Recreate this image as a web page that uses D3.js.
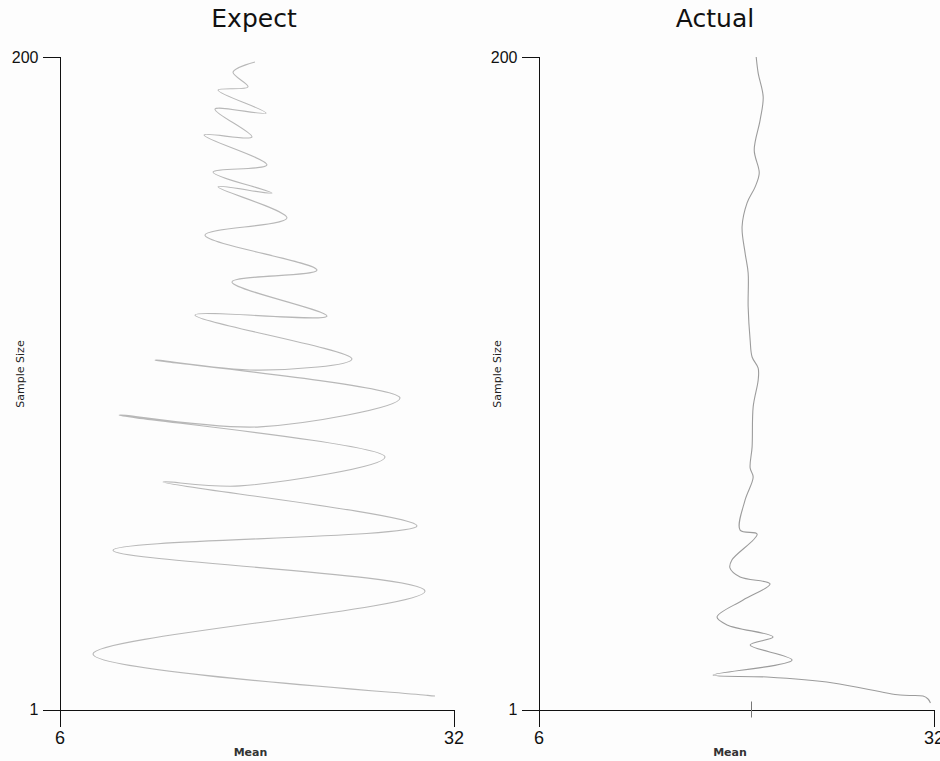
<!DOCTYPE html>
<html>
  <head>
    <script src="https://d3js.org/d3.v7.min.js"></script>
    <style>
body {
    margin: 0;
    background: #fdfdfd;
}
svg {
    font-family: "DejaVu Sans", Verdana, sans-serif;
}
.axis path, .axis line {
    stroke: #111;
    shape-rendering: crispEdges;
}
.axis text {
    fill: #111;
}
    </style>
  </head>
  <body>
    <script>
// values, ordered along each line
var titles = ["Expect", "Actual"];
var xTicks = [6, 32];
var yTicks = [1, 200];

var expectMean = [18.9, 17.45, 18.44, 16.46, 19.63, 16.26, 18.7, 15.54, 19.69, 16.13, 20.02, 16.46,
	21.01, 15.6, 22.99, 17.38, 23.65, 14.94, 25.3, 19.23, 12.3, 28.47, 19.23, 9.93, 27.48, 17.91,
	12.83, 29.59, 9.53, 30.12, 8.21, 30.3, 30.78];
var expectSize = [198.5, 195.4, 190.9, 189.9, 182.9, 184.1, 175.6, 176.2, 167.1, 164.9, 158.5, 160.4,
	150.9, 145.7, 135.0, 131.4, 121.0, 121.3, 107.9, 104.5, 107.6, 96.0, 87.2, 90.8, 78.0, 69.2,
	70.4, 57.0, 49.6, 37.1, 17.9, 5.3, 5.1];

var actualMean = [20.33, 20.46, 20.79, 20.59, 20.2, 20.53, 20.26, 19.73, 19.4, 19.6, 19.8, 19.8,
	19.93, 20.06, 20.46, 20.46, 20.13, 20.06, 19.93, 20.13, 19.6, 19.27, 20.39, 18.73, 18.6, 19.27,
	21.24, 19.47, 17.75, 18.41, 21.44, 19.93, 22.69, 17.49, 21.04, 25.39, 29.8, 31.31, 31.64, 31.8];
var actualSize = [200, 195.1, 187.8, 180.8, 171.6, 164.6, 160.4, 155.5, 148.2, 140.2, 134.1, 123.8,
	113.7, 108.5, 105.1, 101.5, 93.3, 81.1, 74.7, 71.9, 64.9, 55.7, 54.5, 46.6, 44.2, 41.4,
	39.3, 34.4, 29.2, 26.8, 23.1, 20.7, 16.1, 11.5, 10.9, 9.1, 5.4, 5.1, 4.2, 3.0];
var actualMarker = [20];

var width = 940, height = 761;
var svg = d3.select("body").append("svg").attr("width", width).attr("height", height);

var panels = [
	{ title: titles[0], mean: expectMean, size: expectSize, x0: 59.5, x1: 453.5, titleX: 254, ylabX: 20, color: "#b8b8b8" },
	{ title: titles[1], mean: actualMean, size: actualSize, x0: 538.5, x1: 933.5, titleX: 715, ylabX: 497, color: "#9c9c9c" }
];

var y = d3.scaleLinear().domain(yTicks).range([709.5, 57]);

panels.forEach(function (p, k) {
	var x = d3.scaleLinear().domain(xTicks).range([p.x0, p.x1]);
	var g = svg.append("g");

	g.append("text").attr("x", p.titleX).attr("y", 27).attr("text-anchor", "middle")
		.style("font-size", "25px").style("fill", "#111").text(p.title);

	g.append("g").attr("class", "axis").attr("transform", "translate(0," + y(1) + ")")
		.call(d3.axisBottom(x).tickValues(xTicks).tickSize(17).tickPadding(5).tickFormat(d3.format("d")))
		.call(function (a) { a.selectAll("text").style("font-size", "18px").attr("font-family", null); });

	g.append("g").attr("class", "axis").attr("transform", "translate(" + p.x0 + ",0)")
		.call(d3.axisLeft(y).tickValues(yTicks).tickSize(17).tickPadding(4).tickFormat(d3.format("d")))
		.call(function (a) { a.selectAll("text").style("font-size", "16px").attr("font-family", null); });

	g.append("text").attr("x", (p.x0 + p.x1) / 2 - 6).attr("y", 756).attr("text-anchor", "middle")
		.style("font-size", "11px").style("font-weight", "bold").style("fill", "#333").text("Mean");

	g.append("text").attr("transform", "translate(" + p.ylabX + ",374) rotate(-90)")
		.attr("text-anchor", "middle").attr("dy", "0.35em")
		.style("font-size", "11px").style("fill", "#222").text("Sample Size");

	var pts = p.mean.map(function (m, i) { return [m, p.size[i]]; });
	var line = d3.line()
		.x(function (d) { return x(d[0]); })
		.y(function (d) { return y(d[1]); })
		.curve(d3.curveCatmullRom.alpha(0.5));

	g.append("path").datum(pts).attr("d", line)
		.style("fill", "none").style("stroke", p.color).style("stroke-width", 1.1);

	if (k == 1) {
		g.selectAll(".marker").data(actualMarker).enter().append("line")
			.attr("class", "marker")
			.attr("x1", function (d) { return Math.round(x(d)) + 0.5; })
			.attr("x2", function (d) { return Math.round(x(d)) + 0.5; })
			.attr("y1", y(1) - 8).attr("y2", y(1) + 8)
			.style("stroke", "#777").style("stroke-width", 1);
	}
});
    </script>
  </body>
</html>
